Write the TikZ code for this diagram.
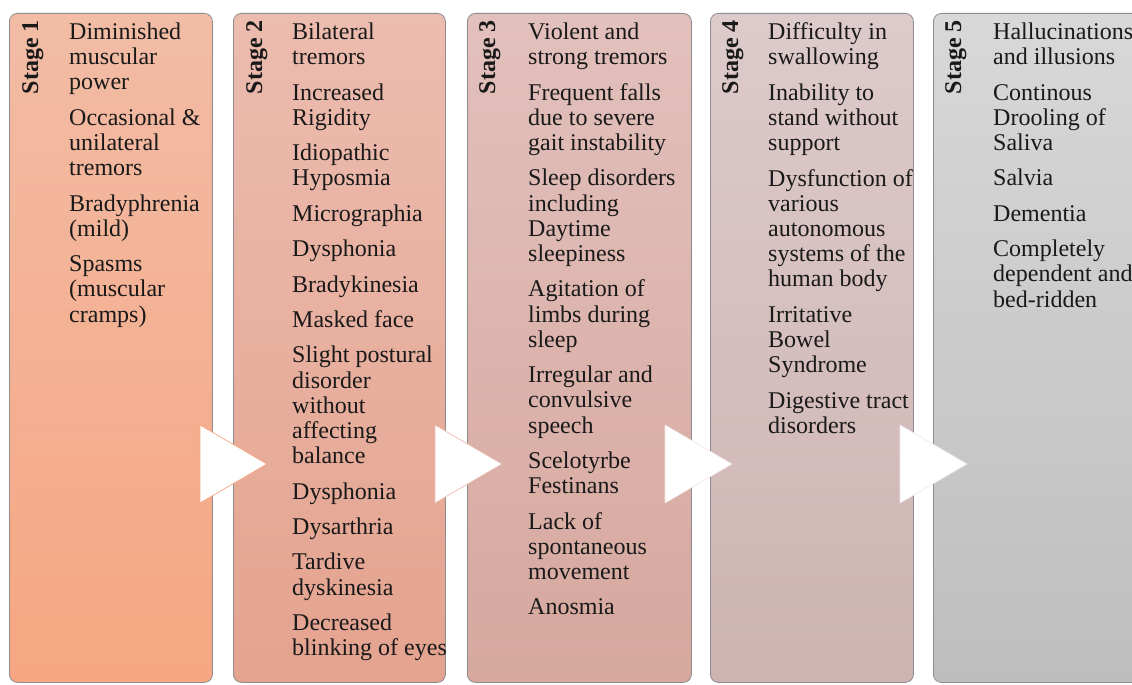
\documentclass[tikz,border=0pt]{standalone}
\usepackage{fontspec}
\setmainfont{Liberation Serif}
\definecolor{oneTop}{RGB}{242,188,165}
\definecolor{oneBot}{RGB}{246,166,130}
\definecolor{twoTop}{RGB}{236,188,175}
\definecolor{twoBot}{RGB}{228,163,143}
\definecolor{threeTop}{RGB}{226,192,188}
\definecolor{threeBot}{RGB}{214,168,158}
\definecolor{fourTop}{RGB}{221,202,202}
\definecolor{fourBot}{RGB}{205,180,178}
\definecolor{fiveTop}{RGB}{216,216,216}
\definecolor{fiveBot}{RGB}{190,190,190}
\tikzset{
  stagebox/.style={draw=black!45,line width=0.8pt,rounded corners=8pt,
    anchor=north west,minimum height=669pt,inner sep=0pt},
  stagelabel/.style={rotate=90,anchor=base east,inner sep=0pt,
    font=\fontsize{24}{24}\selectfont\bfseries,text=black!90},
  symptoms/.style={anchor=north west,align=left,inner sep=0pt,
    font=\fontsize{24}{25.2}\selectfont,text=black!90},
  arrowtri/.style={fill=white,line width=0.7pt,line join=round}
}
\begin{document}
\begin{tikzpicture}[x=1pt,y=-1pt]
\useasboundingbox (0,0) rectangle (1132,685);
\clip (0,0) rectangle (1132,685);
% stage boxes
\node[stagebox,minimum width=203pt,top color=oneTop,bottom color=oneBot] (box1) at (9,13) {};
\node[stagebox,minimum width=212pt,top color=twoTop,bottom color=twoBot] (box2) at (233,13) {};
\node[stagebox,minimum width=224pt,top color=threeTop,bottom color=threeBot] (box3) at (467,13) {};
\node[stagebox,minimum width=203pt,top color=fourTop,bottom color=fourBot] (box4) at (710,13) {};
\node[stagebox,minimum width=230pt,top color=fiveTop,bottom color=fiveBot] (box5) at (933,13) {};
% arrows between stages
\draw[arrowtri,draw=oneBot] (200,425)--(267,464)--(200,503)--cycle;
\draw[arrowtri,draw=twoTop] (435,425)--(502,464)--(435,503)--cycle;
\draw[arrowtri,draw=white!60!threeTop] (665,425)--(732,464)--(665,503)--cycle;
\draw[arrowtri,draw=white!60!fourTop] (900,425)--(967,464)--(900,503)--cycle;
% labels
\node[stagelabel] (lab1) at (38,20) {Stage 1};
\node[stagelabel] (lab2) at (262,20) {Stage 2};
\node[stagelabel] (lab3) at (495,20) {Stage 3};
\node[stagelabel] (lab4) at (738,20) {Stage 4};
\node[stagelabel] (lab5) at (961,20) {Stage 5};
% symptoms
\node[symptoms] (sym1) at (69,22.6) {Diminished\\muscular\\power\\[10.2pt]
Occasional \&\\unilateral\\tremors\\[10.2pt]
Bradyphrenia\\(mild)\\[10.2pt]
Spasms\\(muscular\\cramps)};
\node[symptoms] (sym2) at (292,22.6) {Bilateral\\tremors\\[10.2pt]
Increased\\Rigidity\\[10.2pt]
Idiopathic\\Hyposmia\\[10.2pt]
Micrographia\\[10.2pt]
Dysphonia\\[10.2pt]
Bradykinesia\\[10.2pt]
Masked face\\[10.2pt]
Slight postural\\disorder\\without\\affecting\\balance\\[10.2pt]
Dysphonia\\[10.2pt]
Dysarthria\\[10.2pt]
Tardive\\dyskinesia\\[10.2pt]
Decreased\\blinking of eyes};
\node[symptoms] (sym3) at (528,22.6) {Violent and\\strong tremors\\[10.2pt]
Frequent falls\\due to severe\\gait instability\\[10.2pt]
Sleep disorders\\including\\Daytime\\sleepiness\\[10.2pt]
Agitation of\\limbs during\\sleep\\[10.2pt]
Irregular and\\convulsive\\speech\\[10.2pt]
Scelotyrbe\\Festinans\\[10.2pt]
Lack of\\spontaneous\\movement\\[10.2pt]
Anosmia};
\node[symptoms] (sym4) at (768,22.6) {Difficulty in\\swallowing\\[10.2pt]
Inability to\\stand without\\support\\[10.2pt]
Dysfunction of\\various\\autonomous\\systems of the\\human body\\[10.2pt]
Irritative\\Bowel\\Syndrome\\[10.2pt]
Digestive tract\\disorders};
\node[symptoms] (sym5) at (993,22.6) {Hallucinations\\and illusions\\[10.2pt]
Continous\\Drooling of\\Saliva\\[10.2pt]
Salvia\\[10.2pt]
Dementia\\[10.2pt]
Completely\\dependent and\\bed-ridden};
\end{tikzpicture}
\end{document}
